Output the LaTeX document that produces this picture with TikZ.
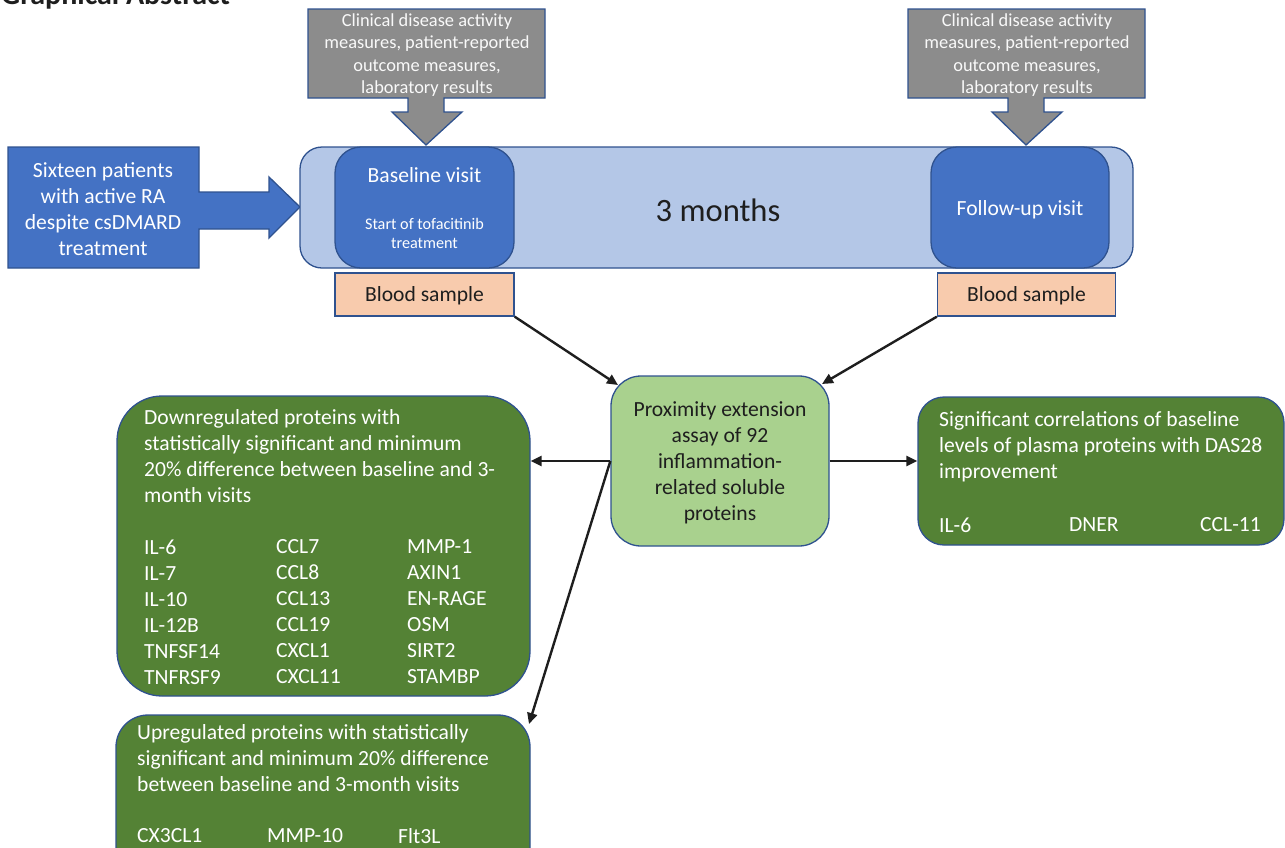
\documentclass[tikz,border=0pt]{standalone}
\usepackage{fontspec}
\setmainfont{Carlito}
\usetikzlibrary{arrows.meta,calc}
\definecolor{edgeblue}{HTML}{2F528F}
\definecolor{darkblue}{HTML}{4472C4}
\definecolor{lightblue}{HTML}{B4C7E7}
\definecolor{grayfill}{HTML}{8C8C8C}
\definecolor{peach}{HTML}{F8CBAD}
\definecolor{lightgreen}{HTML}{A9D18E}
\definecolor{darkgreen}{HTML}{548235}
\definecolor{ink}{HTML}{1E1E1E}
\tikzset{
  outl/.style={draw=edgeblue, line width=1.3pt},
  panel/.style={outl, inner sep=0pt, minimum width=#1},
  txtW/.style={text=white, inner sep=0pt, align=left, font=\fontsize{21.6}{26}\selectfont},
  txtC/.style={inner sep=0pt, align=center, font=\fontsize{21.6}{26}\selectfont},
  conn/.style={draw=ink, line width=2.4pt, -{Triangle[length=11pt,width=10pt]}},
}
\begin{document}
\begin{tikzpicture}[x=1pt,y=-1pt]
\useasboundingbox (0,0) rectangle (1285,847);

% title (cut off at top, as in the reference)
\node[anchor=base west, inner sep=0pt, text=ink, font=\bfseries\fontsize{30}{34}\selectfont] (title) at (1,4) {Graphical Abstract};

% gray callouts
\draw[outl, fill=grayfill] (308,9) -- (545,9) -- (545,98) -- (444,98) -- (444,112) -- (462,112) -- (426,145) -- (392,112) -- (408,112) -- (408,98) -- (308,98) -- cycle;
\node[txtC, text=white!95!gray, font=\fontsize{18.4}{22.3}\selectfont] (gtext1) at (427,55) {Clinical disease activity\\measures, patient-reported\\outcome measures,\\laboratory results};
\draw[outl, fill=grayfill] (908,9) -- (1145,9) -- (1145,98) -- (1044,98) -- (1044,112) -- (1062,112) -- (1026,145) -- (992,112) -- (1008,112) -- (1008,98) -- (908,98) -- cycle;
\node[txtC, text=white!95!gray, font=\fontsize{18.4}{22.3}\selectfont] (gtext2) at (1027,55) {Clinical disease activity\\measures, patient-reported\\outcome measures,\\laboratory results};

% left block arrow
\draw[outl, fill=darkblue] (8,147) -- (199,147) -- (199,192) -- (269,192) -- (269,177) -- (300,207) -- (269,238) -- (269,229) -- (199,229) -- (199,268) -- (8,268) -- cycle;
\node[txtC, text=white] (patients) at (103,209) {Sixteen patients\\with active RA\\despite csDMARD\\treatment};

% timeline
\node[panel=833pt, fill=lightblue, minimum height=121pt, rounded corners=22pt] (timeline) at (716.5,207.5) {};
\node[panel=179pt, fill=darkblue, minimum height=121pt, rounded corners=26pt] (base) at (424.5,207.5) {};
\node[panel=178pt, fill=darkblue, minimum height=121pt, rounded corners=26pt] (follow) at (1020,207.5) {};
\node[txtC, text=white] (basetitle) at (424.5,175) {Baseline visit};
\node[txtC, text=white, font=\fontsize{16.2}{19}\selectfont] (basesub) at (424.5,233) {Start of tofacitinib\\treatment};
\node[txtC, text=white] (followtitle) at (1020,210) {Follow-up visit};
\node[txtC, text=ink, font=\fontsize{32.6}{38}\selectfont] (months) at (718,210) {3 months};

% blood samples
\node[panel=179pt, fill=peach, minimum height=43pt] (blood1) at (424.5,294.5) {};
\node[panel=178pt, fill=peach, minimum height=43pt] (blood2) at (1026.5,294.5) {};
\node[txtC, text=ink] (blood1text) at (424.5,296) {Blood sample};
\node[txtC, text=ink] (blood2text) at (1026.5,296) {Blood sample};

% proximity
\node[panel=218pt, fill=lightgreen, minimum height=170pt, rounded corners=30pt] (prox) at (720,461) {};
\node[txtC, text=ink] (proxtext) at (720,463) {Proximity extension\\assay of 92\\inflammation-\\related soluble\\proteins};

% downregulated
\node[panel=413pt, fill=darkgreen, minimum height=300pt, rounded corners=45pt] (down) at (323.5,546) {};
\node[txtW, anchor=west] (downtext) at (144,456) {Downregulated proteins with\\statistically significant and minimum\\20\% difference between baseline and 3-\\month visits};
\node[txtW, anchor=west] (downc1) at (144,612) {IL-6\\IL-7\\IL-10\\IL-12B\\TNFSF14\\TNFRSF9};
\node[txtW, anchor=west] (downc2) at (276,612) {CCL7\\CCL8\\CCL13\\CCL19\\CXCL1\\CXCL11};
\node[txtW, anchor=west] (downc3) at (407,612) {MMP-1\\AXIN1\\EN-RAGE\\OSM\\SIRT2\\STAMBP};

% correlations
\node[panel=366pt, fill=darkgreen, minimum height=148pt, rounded corners=26pt] (corr) at (1101,471) {};
\node[txtW, anchor=west] (corrtext) at (939,447) {Significant correlations of baseline\\levels of plasma proteins with DAS28\\improvement};
\node[txtW, anchor=west] (corr1) at (939,525) {IL-6};
\node[txtW, anchor=west] (corr2) at (1069,525) {DNER};
\node[txtW, anchor=west] (corr3) at (1200,525) {CCL-11};

% upregulated
\node[panel=414pt, fill=darkgreen, minimum height=170pt, rounded corners=32pt] (up) at (323,800) {};
\node[txtW, anchor=west] (uptext) at (137,758) {Upregulated proteins with statistically\\significant and minimum 20\% difference\\between baseline and 3-month visits};
\node[txtW, anchor=west] (up1) at (137,836) {CX3CL1};
\node[txtW, anchor=west] (up2) at (267,836) {MMP-10};
\node[txtW, anchor=west] (up3) at (398,836) {Flt3L};

% connectors
\coordinate (proxNW) at (618,385);
\coordinate (proxNE) at (822,384);
\coordinate (upNE) at (529,724);
\draw[conn] (blood1.south east) -- (proxNW);
\draw[conn] (blood2.south west) -- (proxNE);
\draw[conn] (prox.west) -- (prox.west -| down.east);
\draw[conn] (prox.east) -- (prox.east -| corr.west);
\draw[conn] (prox.west) -- (upNE);
\end{tikzpicture}
\end{document}
